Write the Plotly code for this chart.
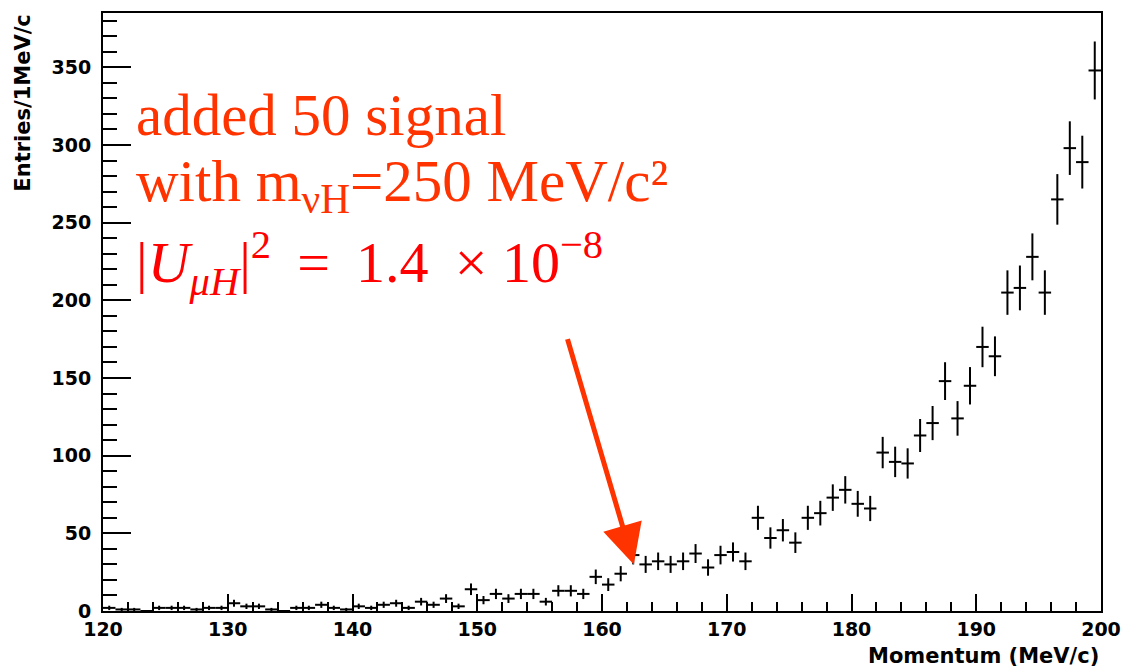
import math
import plotly.graph_objects as go

# Histogram: momentum bins (1 MeV/c wide), bin centres
bin_centers = [120.5, 121.5, 122.5, 123.5, 124.5, 125.5, 126.5, 127.5, 128.5, 129.5,
               130.5, 131.5, 132.5, 133.5, 134.5, 135.5, 136.5, 137.5, 138.5, 139.5,
               140.5, 141.5, 142.5, 143.5, 144.5, 145.5, 146.5, 147.5, 148.5, 149.5,
               150.5, 151.5, 152.5, 153.5, 154.5, 155.5, 156.5, 157.5, 158.5, 159.5,
               160.5, 161.5, 162.5, 163.5, 164.5, 165.5, 166.5, 167.5, 168.5, 169.5,
               170.5, 171.5, 172.5, 173.5, 174.5, 175.5, 176.5, 177.5, 178.5, 179.5,
               180.5, 181.5, 182.5, 183.5, 184.5, 185.5, 186.5, 187.5, 188.5, 189.5,
               190.5, 191.5, 192.5, 193.5, 194.5, 195.5, 196.5, 197.5, 198.5, 199.5]
counts = [2, 1, 1, 0, 2, 2, 2, 1, 2, 2,
          5, 3, 3, 1, 0, 2, 2, 4, 2, 1,
          3, 2, 4, 5, 2, 6, 4, 8, 3, 14,
          7, 11, 8, 11, 11, 6, 13, 13, 11, 22,
          17, 24, 36, 30, 32, 30, 32, 37, 28, 36,
          38, 32, 60, 47, 52, 44, 60, 63, 73, 78,
          69, 66, 102, 96, 95, 113, 121, 148, 124, 145,
          170, 164, 205, 208, 228, 205, 265, 298, 289, 348]
bin_half_width = [0.5] * len(bin_centers)
stat_err = [math.sqrt(c) for c in counts]

x_ticks = [120, 130, 140, 150, 160, 170, 180, 190, 200]
y_ticks = [0, 50, 100, 150, 200, 250, 300, 350]

fig = go.Figure()
fig.add_trace(go.Scatter(
    x=bin_centers, y=counts, mode="markers",
    marker=dict(size=1, color="black"),
    error_x=dict(type="data", array=bin_half_width, symmetric=True,
                 color="black", thickness=2, width=0),
    error_y=dict(type="data", array=stat_err, symmetric=True,
                 color="black", thickness=2, width=0),
    showlegend=False, hoverinfo="x+y",
))

fig.update_layout(
    width=1124, height=668,
    margin=dict(l=103, r=23, t=13, b=57, autoexpand=False),
    paper_bgcolor="white", plot_bgcolor="white",
    xaxis=dict(range=[120, 200], tickvals=x_ticks, ticktext=[str(v) for v in x_ticks],
               ticks="inside", ticklen=17, tickwidth=2, tickcolor="black",
               minor=dict(dtick=2, ticks="inside", ticklen=9, tickwidth=2, tickcolor="black"),
               showline=True, linewidth=2, linecolor="black", mirror=True,
               showgrid=False, zeroline=False, automargin=False,
               tickfont=dict(family="DejaVu Sans", size=19, color="black", weight="bold")),
    yaxis=dict(range=[0, 385], tickvals=y_ticks, ticktext=[str(v) for v in y_ticks],
               ticks="inside", ticklen=28, tickwidth=2, tickcolor="black",
               minor=dict(dtick=10, ticks="inside", ticklen=14, tickwidth=2, tickcolor="black"),
               showline=True, linewidth=2, linecolor="black", mirror=True,
               showgrid=False, zeroline=False, ticklabelstandoff=6, automargin=False,
               tickfont=dict(family="DejaVu Sans", size=19, color="black", weight="bold")),
)

# axis titles in ROOT style (right / top aligned)
fig.add_annotation(text="<b>Momentum (MeV/c)</b>", xref="paper", yref="paper",
                   x=1.0, y=-0.075, xanchor="right", yanchor="middle", showarrow=False,
                   font=dict(family="DejaVu Sans", size=21, color="black"))
fig.add_annotation(text="<b>Entries/1MeV/c</b>", xref="paper", yref="paper",
                   x=-0.081, y=1.0, xanchor="center", yanchor="top", textangle=-90,
                   showarrow=False,
                   font=dict(family="DejaVu Sans", size=21, color="black"))

# red text
red1 = "#ff3300"
fig.add_annotation(text="added 50 signal", xref="paper", yref="paper",
                   x=0.031, y=0.829, xanchor="left", yanchor="middle", showarrow=False,
                   font=dict(family="Liberation Serif", size=59, color=red1))
fig.add_annotation(text="with m<sub>νH</sub>=250 MeV/c²", xref="paper", yref="paper",
                   x=0.031, y=0.712, xanchor="left", yanchor="middle", showarrow=False,
                   font=dict(family="Liberation Serif", size=59, color=red1))
fig.add_annotation(text="|<i>U</i><sub><i>μH</i></sub>|<sup>2</sup>\u2009 = \u20091.4\u2009 × 10<sup>−8</sup>",
                   xref="paper", yref="paper",
                   x=0.031, y=0.582, xanchor="left", yanchor="middle", showarrow=False,
                   font=dict(family="Liberation Serif", size=58, color="#ff0000"))

# arrow pointing at the signal bin
fig.add_annotation(x=162.55, y=30, xref="x", yref="y",
                   ax=157.2, ay=176, axref="x", ayref="y",
                   text="", showarrow=True, arrowhead=2, arrowsize=1.6,
                   arrowwidth=5, arrowcolor=red1)

fig.write_html("out.html")
